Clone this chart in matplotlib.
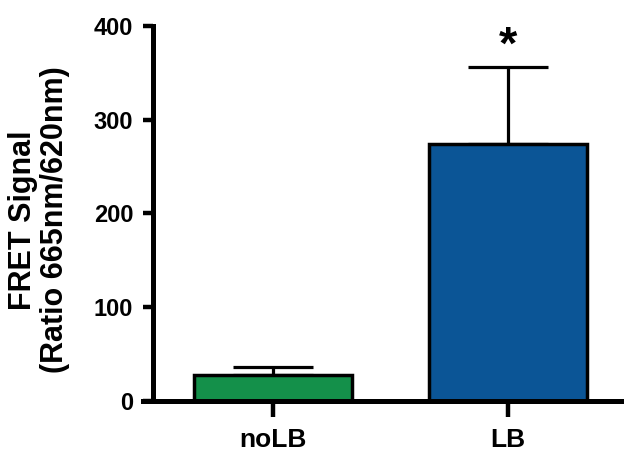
import numpy as np
import matplotlib
matplotlib.use("Agg")
import matplotlib.pyplot as plt

# data
groups = ["noLB", "LB"]
means = [28, 274]
err_up = [8, 82]
bar_colors = ["#14904A", "#0B5596"]
yticks = [0, 100, 200, 300, 400]

plt.rcParams['font.family'] = ['Liberation Sans', 'DejaVu Sans']
plt.rcParams['font.weight'] = 'bold'

fig = plt.figure(figsize=(6.24, 4.57), dpi=100)
ax = fig.add_axes([143/624, 1 - 401/457, 1 - 143/624, (401 - 26)/457])

x = np.arange(len(groups))
ax.bar(x, means, width=0.67, color=bar_colors, edgecolor='black',
       linewidth=2.5, zorder=2)
ax.errorbar(x, means, yerr=[np.zeros(len(means)), err_up], fmt='none',
            ecolor='black', elinewidth=2.3, capsize=29, capthick=2.3, zorder=1)

# significance star over LB
ax.text(x[1], means[1] + err_up[1] + 22, "*", ha='center', va='center',
        fontsize=34, fontweight='bold')

ax.set_xlim(-0.553, 1.494)
ax.set_ylim(0, 400)
ax.set_yticks(yticks)
ax.set_xticks(x)
ax.set_xticklabels(groups)

for s in ['top', 'right']:
    ax.spines[s].set_visible(False)
ax.spines['left'].set_position(('data', -0.509))
ax.spines['left'].set_linewidth(3.6)
ax.spines['bottom'].set_linewidth(3.6)
ax.spines['bottom'].set_zorder(3)
ax.spines['left'].set_capstyle('projecting')

ax.tick_params(axis='y', direction='out', length=7.5, width=3.2, pad=7,
               labelsize=17)
ax.tick_params(axis='x', direction='out', length=11.5, width=3.2, pad=8,
               labelsize=19)
for lab in ax.get_xticklabels() + ax.get_yticklabels():
    lab.set_fontweight('bold')

# two-line y label, each line centred on the axis
fig.text(23/624, 1 - 220/457, "FRET Signal", rotation=90,
         ha='center', va='center', fontsize=22, fontweight='bold')
fig.text(55/624, 1 - 220/457, "(Ratio 665nm/620nm)", rotation=90,
         ha='center', va='center', fontsize=22, fontweight='bold')

fig.savefig("out.png", dpi=100)
